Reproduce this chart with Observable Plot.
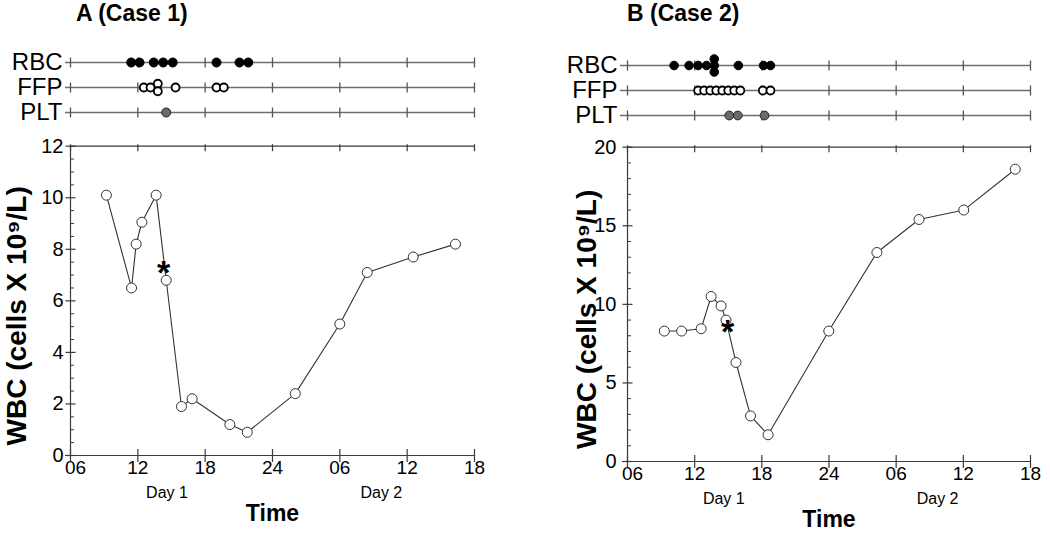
<!DOCTYPE html>
<html><head><meta charset="utf-8">
<script src="https://cdn.jsdelivr.net/npm/d3@7"></script>
<script src="https://cdn.jsdelivr.net/npm/@observablehq/plot@0.6"></script>
<style>
body{margin:0;background:#fff;}
#root{position:relative;width:1050px;height:534px;overflow:hidden;font-family:"Liberation Sans",Arial,Helvetica,sans-serif;background:#fff;}
#root svg{position:absolute;left:0;top:0;}
.title{position:absolute;font-weight:bold;font-size:23px;top:0px;line-height:normal;white-space:nowrap;}
</style></head><body><div id="root">
<div class="title" style="left:76px">A (Case 1)</div>
<div class="title" style="left:627px">B (Case 2)</div>
</div>
<script>
// ---------- data ----------
const hourTicks = [6, 12, 18, 24, 30, 36, 42];
const hourLabels = ["06", "12", "18", "24", "06", "12", "18"];
const rows = ["RBC", "FFP", "PLT"];
const dayLabels = ["Day 1", "Day 2"];
const dayTimes = [14.6, 33.7];
const yLabel = "WBC (cells X 10\u2079/L)";
const xLabel = "Time";

// Case 1 (hours from 00:00 of Day 1)
const aTime = [9.2, 11.44, 11.85, 12.36, 13.63, 14.53, 15.89, 16.84, 20.2, 21.75, 26.03, 30.0, 32.44, 36.54, 40.3];
const aWBC  = [10.1, 6.5, 8.2, 9.05, 10.1, 6.8, 1.9, 2.2, 1.2, 0.9, 2.4, 5.1, 7.1, 7.7, 8.2];
const aRBC = [11.41, 12.15, 13.42, 14.26, 15.11, 19.01, 21.06, 21.84];
const aFFP = [12.53, 13.13, 13.78, 13.78, 15.36, 19.01, 19.66];
const aPLT = [14.53];
const aStar = [{t: 14.3, v: 7.36}];
const aYTicks = [0, 2, 4, 6, 8, 10, 12];

// Case 2
const bTime = [9.29, 10.83, 12.58, 13.47, 14.36, 14.8, 15.69, 16.99, 18.56, 23.98, 28.28, 32.04, 36.04, 40.64];
const bWBC  = [8.3, 8.3, 8.45, 10.5, 9.9, 9.0, 6.3, 2.9, 1.7, 8.3, 13.3, 15.4, 16.0, 18.6];
const bRBC = [10.16, 11.5, 12.31, 13.06, 13.75, 13.75, 13.75, 15.9, 18.15, 18.77];
const bFFP = [12.31, 12.85, 13.39, 13.93, 14.47, 15.0, 15.54, 16.08, 18.09, 18.77];
const bPLT = [15.09, 15.85, 18.24];
const bStar = [{t: 14.95, v: 8.65}];
const bYTicks = [0, 5, 10, 15, 20];

// ---------- layout ----------
const W = 1050, H = 534;
const FONT = '"Liberation Sans", Arial, Helvetica, sans-serif';
const panels = [
  {x0: 70, x1: 474, rowTop: 61.7, rowBottom: 112.3, yTop: 145.7, yBottom: 455, yMax: 12, minorStep: 0.5,
   yTicks: aYTicks, time: aTime, wbc: aWBC, star: aStar, tr: {RBC: aRBC, FFP: aFFP, PLT: aPLT},
   rowLabelDx: -8, lead: 5, yTickDx: -7, yLabelDx: -53, dotR: {RBC: 4.5, FFP: 4, PLT: 4.5}, stackGap: 7.5},
  {x0: 627, x1: 1030, rowTop: 64, rowBottom: 115, yTop: 146.7, yBottom: 461, yMax: 20, minorStep: 1,
   yTicks: bYTicks, time: bTime, wbc: bWBC, star: bStar, tr: {RBC: bRBC, FFP: bFFP, PLT: bPLT},
   rowLabelDx: -10, lead: 7, yTickDx: -11, yLabelDx: -40, dotR: {RBC: 4.3, FFP: 4, PLT: 4.4}, stackGap: 6.5}
];

const vTick = (a, b) => ({draw(ctx, size) { const r = Math.sqrt(size / Math.PI); ctx.moveTo(0, -a * r); ctx.lineTo(0, b * r); }});
const hTick = (a, b) => ({draw(ctx, size) { const r = Math.sqrt(size / Math.PI); ctx.moveTo(-a * r, 0); ctx.lineTo(b * r, 0); }});
const baseStyle = {background: "transparent", overflow: "visible", fontFamily: FONT, color: "black"};

function stripPlot(p) {
  const items = [];
  for (const row of rows) {
    const arr = p.tr[row];
    const counts = d3.rollup(arr, v => v.length, d => d);
    const seen = new Map();
    for (const t of arr) {
      const n = counts.get(t), i = seen.get(t) || 0;
      seen.set(t, i + 1);
      items.push({row, t, off: (i - (n - 1) / 2) * p.stackGap});
    }
  }
  const offs = [...new Set(items.map(d => d.off))];
  const look = {RBC: {fill: "black", stroke: "black", sw: 1}, FFP: {fill: "white", stroke: "black", sw: 1.8}, PLT: {fill: "#6a6a6a", stroke: "#222", sw: 1}};
  const marks = [
    Plot.ruleY(rows, {y: d => d, stroke: "#6e6e6e", strokeWidth: 1.6, insetLeft: -p.lead}),
    Plot.dot(d3.cross(hourTicks, rows), {x: d => d[0], y: d => d[1], symbol: vTick(1, 1), r: 5, stroke: "#555", strokeWidth: 1.3, fill: "none"}),
    Plot.text(rows, {y: d => d, text: d => d, frameAnchor: "left", textAnchor: "end", dx: p.rowLabelDx, fontSize: 24})
  ];
  for (const row of rows) for (const off of offs) {
    const sub = items.filter(d => d.row === row && d.off === off);
    if (!sub.length) continue;
    marks.push(Plot.dot(sub, {x: "t", y: "row", r: p.dotR[row], dy: off, fill: look[row].fill, stroke: look[row].stroke, strokeWidth: look[row].sw}));
  }
  return Plot.plot({
    width: W, height: H,
    marginLeft: p.x0, marginRight: W - p.x1, marginTop: p.rowTop, marginBottom: H - p.rowBottom,
    x: {domain: [6, 42], axis: null},
    y: {type: "point", domain: rows, padding: 0, axis: null},
    style: baseStyle,
    marks
  });
}

function mainPlot(p) {
  const pts = p.time.map((t, i) => ({t, v: p.wbc[i]}));
  const step = p.yTicks[1] - p.yTicks[0];
  const minor = d3.range(0, p.yMax + 1e-9, p.minorStep).filter(v => Math.abs(v / step - Math.round(v / step)) > 1e-6);
  const axisCol = "#3a3a3a";
  const xLab = hourTicks.map((t, i) => ({t, label: hourLabels[i], first: i === 0}));
  return Plot.plot({
    width: W, height: H,
    marginLeft: p.x0, marginRight: W - p.x1, marginTop: p.yTop, marginBottom: H - p.yBottom,
    x: {domain: [6, 42], axis: null},
    y: {domain: [0, p.yMax], axis: null},
    style: baseStyle,
    marks: [
      Plot.ruleY([0], {stroke: axisCol, strokeWidth: 1.2, insetLeft: -5}),
      Plot.ruleY([p.yMax], {stroke: axisCol, strokeWidth: 1.2}),
      Plot.ruleX([6], {stroke: axisCol, strokeWidth: 1.2}),
      Plot.dot(hourTicks, {x: d => d, frameAnchor: "top", symbol: vTick(0.4, 1), r: 5, stroke: axisCol, strokeWidth: 1.2, fill: "none"}),
      Plot.dot(hourTicks, {x: d => d, frameAnchor: "bottom", symbol: vTick(1, 1), r: 6.5, stroke: axisCol, strokeWidth: 1.2, fill: "none"}),
      Plot.dot(p.yTicks, {y: d => d, frameAnchor: "left", symbol: hTick(1, 1), r: 5, stroke: axisCol, strokeWidth: 1.2, fill: "none"}),
      Plot.dot(minor, {y: d => d, frameAnchor: "left", symbol: hTick(0, 1), r: 3.5, stroke: axisCol, strokeWidth: 1, fill: "none"}),
      Plot.text(xLab.filter(d => !d.first), {x: "t", text: "label", frameAnchor: "bottom", dy: 18, fontSize: 19}),
      Plot.text(xLab.filter(d => d.first), {x: "t", text: "label", frameAnchor: "bottom", dy: 18, dx: 5, fontSize: 19}),
      Plot.text(p.yTicks, {y: d => d, text: d => String(d), frameAnchor: "left", textAnchor: "end", dx: p.yTickDx, fontSize: 20}),
      Plot.text(dayLabels, {x: (d, i) => dayTimes[i], text: d => d, frameAnchor: "bottom", dy: 42, fontSize: 16}),
      Plot.text([xLabel], {text: d => d, frameAnchor: "bottom", dy: 65, fontSize: 23, fontWeight: "bold"}),
      Plot.text([yLabel], {text: d => d, frameAnchor: "left", textAnchor: "middle", dx: p.yLabelDx, dy: 15, rotate: -90, fontSize: 28, fontWeight: "bold"}),
      Plot.line(pts, {x: "t", y: "v", stroke: "#333", strokeWidth: 1.1}),
      Plot.dot(pts, {x: "t", y: "v", r: 5, stroke: "#333", strokeWidth: 1, fill: "white"}),
      Plot.text(p.star, {x: "t", y: "v", text: () => "*", dy: 7, fontSize: 34, fontWeight: "bold"})
    ]
  });
}

const root = document.getElementById("root");
for (const p of panels) {
  root.appendChild(stripPlot(p));
  root.appendChild(mainPlot(p));
}
</script>
</body></html>
